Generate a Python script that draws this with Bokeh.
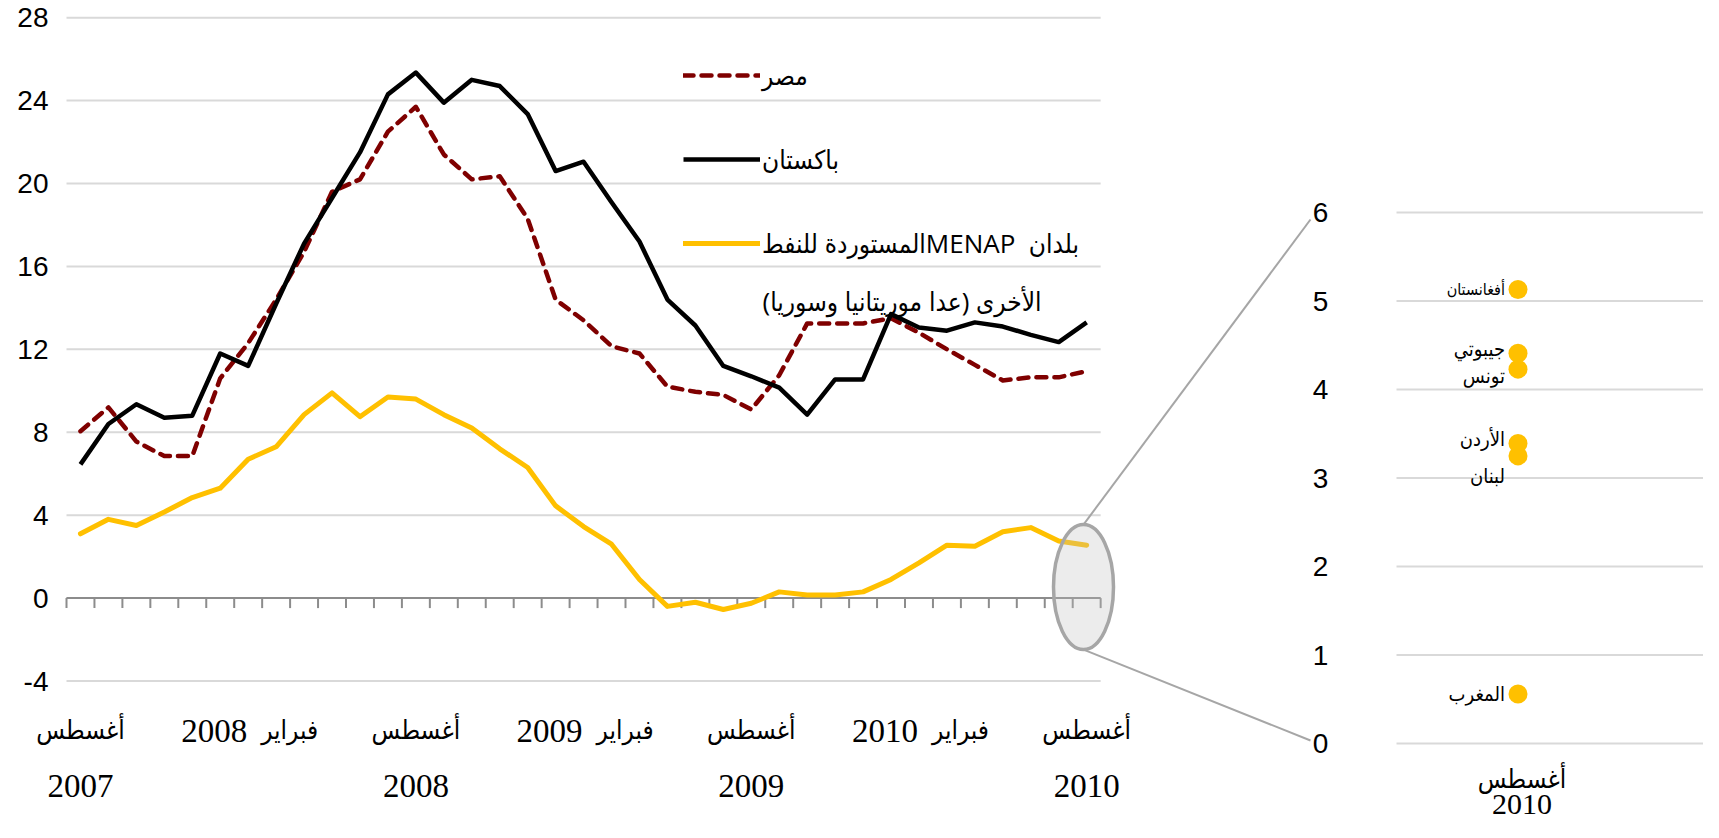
import pandas as pd
from bokeh.plotting import figure
from bokeh.models import Range1d, Legend, LegendItem, Label
from bokeh.core.properties import value
from bokeh.embed import file_html
from bokeh.resources import INLINE

# ---------------- data ----------------
months = [str(m) for m in pd.period_range("2007-08", "2010-08", freq="M")]

egypt = [8.05, 9.2, 7.55, 6.85, 6.85, 10.6, 12.3, 14.4, 16.7, 19.6, 20.2, 22.5, 23.7,
         21.4, 20.2, 20.35, 18.3, 14.4, 13.4, 12.15, 11.8, 10.2, 9.95, 9.8, 9.1, 10.75,
         13.25, 13.25, 13.25, 13.5, 12.8, 12.0, 11.25, 10.5, 10.65, 10.65, 10.95]
pakistan = [6.45, 8.4, 9.35, 8.7, 8.8, 11.8, 11.2, 14.2, 17.1, 19.3, 21.5, 24.3, 25.35,
            23.9, 25.0, 24.7, 23.35, 20.6, 21.05, 19.1, 17.2, 14.4, 13.15, 11.2, 10.7,
            10.15, 8.85, 10.55, 10.55, 13.7, 13.05, 12.9, 13.3, 13.1, 12.7, 12.35, 13.3]
menap = [3.1, 3.8, 3.5, 4.15, 4.85, 5.3, 6.7, 7.3, 8.85, 9.9, 8.75, 9.7, 9.6, 8.85, 8.2,
         7.2, 6.3, 4.45, 3.45, 2.6, 0.9, -0.4, -0.2, -0.55, -0.25, 0.3, 0.15, 0.15, 0.3,
         0.9, 1.7, 2.55, 2.5, 3.2, 3.4, 2.75, 2.55]

x_tick_idx = [0, 6, 12, 18, 24, 30, 36]
x_tick_month = ["أغسطس", "فبراير", "أغسطس", "فبراير", "أغسطس", "فبراير", "أغسطس"]
x_tick_year = ["2007", "2008", "2008", "2009", "2009", "2010", "2010"]
y_ticks = [-4, 0, 4, 8, 12, 16, 20, 24, 28]

countries = ["أفغانستان", "جيبوتي", "تونس", "الأردن", "لبنان", "المغرب"]
country_vals = [5.13, 4.41, 4.23, 3.39, 3.25, 0.56]
right_ticks = [0, 1, 2, 3, 4, 5, 6]
right_month = "أغسطس"
right_year = "2010"

RLE, PDF = "\u202b", "\u202c"
leg_egypt = "مصر"
leg_pak = "باكستان"
leg_menap_1 = RLE + "بلدان  MENAPالمستوردة للنفط" + PDF
leg_menap_2 = RLE + "الأخرى (عدا موريتانيا وسوريا)" + PDF

# ---------------- layout constants (page pixels) ----------------
W, H = 1703, 822
PAGE = 8
X_LEFT, CAT_W = 74.0, 27.95     # main chart: left edge of category band, px per category
Y0, UNIT = 605.6, 20.73         # main chart: page y of value 0, px per unit
RX0, RXU = 1525.5, 351.0        # right panel: page x of the category, px per unit
RY0, RYU = 751.0, 88.5          # right panel: page y of value 0, px per unit
ROW1, ROW2 = 738, 793           # page y of the two rows of category labels

SANS = "Liberation Sans, DejaVu Sans Condensed, DejaVu Sans, sans-serif"
LEG = "Open Sans, DejaVu Sans Condensed, DejaVu Sans, sans-serif"
SERIF = "Liberation Serif, DejaVu Sans Condensed, DejaVu Sans, serif"

n = len(months)
x = list(range(n))

xs = -0.5 - (X_LEFT - PAGE) / CAT_W
p = figure(width=W, height=H, output_backend="svg", toolbar_location=None,
           x_axis_type=None, y_axis_type=None,
           min_border_left=0, min_border_right=0, min_border_top=0, min_border_bottom=0,
           x_range=Range1d(xs, xs + W / CAT_W),
           y_range=Range1d((Y0 - (PAGE + H)) / UNIT, (Y0 - PAGE) / UNIT))
p.outline_line_color = None
p.background_fill_color = "white"
p.border_fill_color = "white"

p.extra_x_ranges = {"px": Range1d(PAGE, PAGE + W),
                    "rx": Range1d((PAGE - RX0) / RXU, (PAGE + W - RX0) / RXU)}
p.extra_y_ranges = {"px": Range1d(PAGE + H, PAGE),
                    "ry": Range1d((RY0 - (PAGE + H)) / RYU, (RY0 - PAGE) / RYU)}

GRID = "#d9d9d9"
AXIS = "#8c8c8c"

# main gridlines
p.segment(x0=-0.5, x1=n - 0.5, y0=y_ticks, y1=y_ticks, line_color=GRID, line_width=2)
# horizontal axis at zero with category tick marks
p.segment(x0=-0.5, x1=n - 0.5, y0=0, y1=0, line_color=AXIS, line_width=2)
bounds = [i - 0.5 for i in range(n + 1)]
p.segment(x0=bounds, x1=bounds, y0=0, y1=-10 / UNIT, line_color=AXIS, line_width=2)

# series
r_m = p.line(x, menap, line_color="#FFC000", line_width=5, line_join="round", line_cap="round")
r_e = p.line(x, egypt, line_color="#7F0000", line_width=4.5, line_dash="10 8",
             line_cap="round", line_join="round")
r_p = p.line(x, pakistan, line_color="black", line_width=4.5, line_join="round")

# y tick labels (main)
p.text(x=-0.5, y=y_ticks, text=[str(t) for t in y_ticks], x_offset=-18,
       text_align="right", text_baseline="middle", text_font=value(SANS),
       text_font_size="28px", text_color="black")

# x tick labels (main): August -> month over year; February -> year and month side by side
is_feb = [m == "فبراير" for m in x_tick_month]
p.text(x=x_tick_idx, y=ROW1, y_range_name="px", text=x_tick_month,
       x_offset=[13 if f else 0 for f in is_feb],
       text_align=["left" if f else "center" for f in is_feb],
       text_baseline="middle", text_font=value(SERIF), text_font_size="26px",
       text_color="black")
p.text(x=x_tick_idx, y=[ROW1 if f else ROW2 for f in is_feb], y_range_name="px",
       text=x_tick_year, x_offset=[-1 if f else 0 for f in is_feb],
       text_align=["right" if f else "center" for f in is_feb],
       text_baseline="middle", text_font=value(SERIF), text_font_size="33px",
       text_color="black")

# magnifier ellipse + connectors
ex, ey, ew, eh = 1091.0, 594.6, 60.0, 125.0
cx_end = 1318.0
p.segment(x0=[ex, ex], y0=[ey - eh / 2, ey + eh / 2], x1=[cx_end, cx_end],
          y1=[RY0 - right_ticks[-1] * RYU + 7, RY0 - 3],
          x_range_name="px", y_range_name="px", line_color="#a6a6a6", line_width=2)
p.ellipse(x=ex, y=ey, width=ew, height=eh, x_range_name="px", y_range_name="px",
          fill_color="#bfbfbf", fill_alpha=0.3, line_color="#a6a6a6", line_width=3.5)

# right panel
gx0 = (1404 - RX0) / RXU
gx1 = (PAGE + W - RX0) / RXU
p.segment(x0=gx0, x1=gx1, y0=right_ticks, y1=right_ticks,
          x_range_name="rx", y_range_name="ry", line_color=GRID, line_width=2)
p.text(x=(1328 - RX0) / RXU, y=right_ticks, text=[str(t) for t in right_ticks],
       x_range_name="rx", y_range_name="ry", text_align="center", text_baseline="middle",
       text_font=value(SANS), text_font_size="28px", text_color="black")
p.scatter(x=0, y=country_vals, size=19, fill_color="#FFC000", line_color=None,
          x_range_name="rx", y_range_name="ry")
label_dy = [0, -4, 7, -4, 20, 0]
label_fs = ["16px", "20px", "20px", "20px", "20px", "20px"]
p.text(x=0, y=country_vals, text=countries, x_offset=-13, y_offset=label_dy,
       x_range_name="rx", y_range_name="ry", text_align="right", text_baseline="middle",
       text_font=value(SANS), text_font_size=label_fs, text_color="black")
p.text(x=0, y=787, text=[right_month], x_offset=4, x_range_name="rx", y_range_name="px",
       text_align="center", text_baseline="middle", text_font=value(SERIF),
       text_font_size="26px", text_color="black")
p.text(x=0, y=812, text=[right_year], x_offset=4, x_range_name="rx", y_range_name="px",
       text_align="center", text_baseline="middle", text_font=value(SERIF),
       text_font_size="30px", text_color="black")

# legend
legend = Legend(items=[LegendItem(label=leg_egypt, renderers=[r_e]),
                       LegendItem(label=leg_pak, renderers=[r_p]),
                       LegendItem(label=leg_menap_1, renderers=[r_m])],
                location=(691 - PAGE, PAGE + H - 271), orientation="vertical",
                glyph_width=77, glyph_height=40, label_height=40, spacing=44,
                label_standoff=2, padding=0, margin=0, border_line_color=None,
                background_fill_alpha=0, label_text_font=LEG,
                label_text_font_size="26px", label_text_color="black")
p.add_layout(legend)
p.add_layout(Label(x=770, y=308, x_range_name="px", y_range_name="px", text=leg_menap_2,
                   text_align="left", text_baseline="middle", text_font=LEG,
                   text_font_size="26px", text_color="black"))

open("out.html", "w").write(file_html(p, INLINE))
